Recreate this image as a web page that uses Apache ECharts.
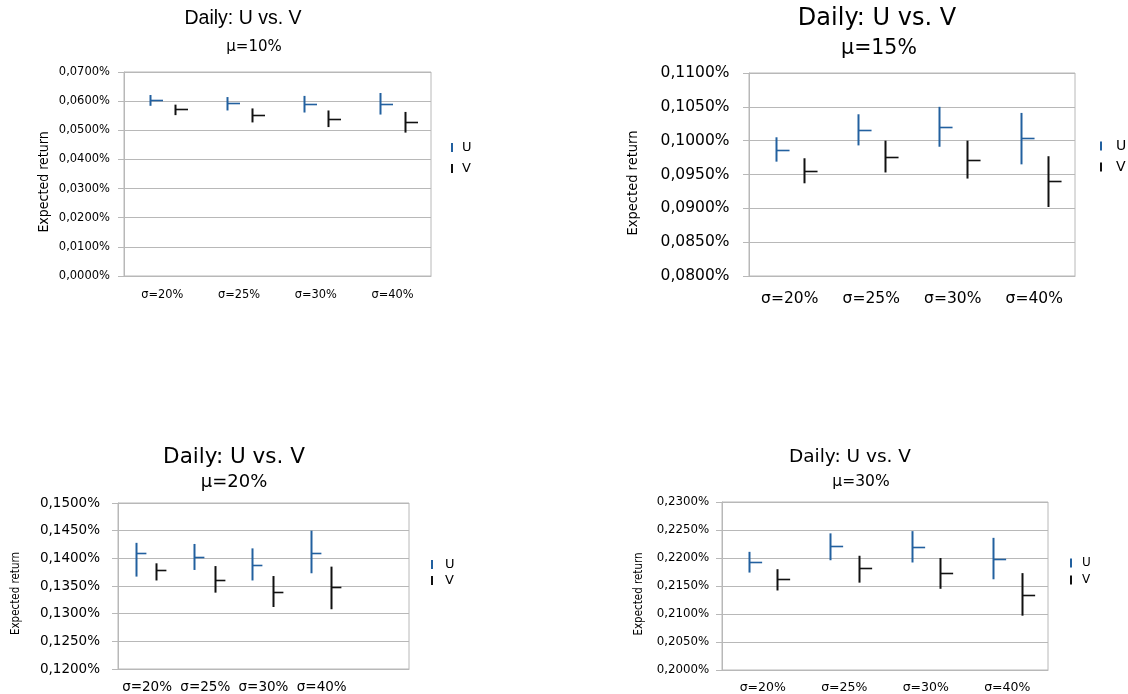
<!DOCTYPE html>
<html>
<head>
<meta charset="utf-8">
<script src="https://cdn.jsdelivr.net/npm/echarts@6/dist/echarts.min.js"></script>
<style>html,body{margin:0;padding:0;background:#fff;}#c{width:1128px;height:694px;}</style>
</head>
<body>
<div id="c"></div>
<script>
// ---------- data (values in percent) ----------
const categories = ['σ=20%', 'σ=25%', 'σ=30%', 'σ=40%'];
const categories20 = ['σ=20%', 'σ=25%', 'σ=30%', 'σ=40%', ''];
const seriesNames = ['U', 'V'];
const mainTitle = 'Daily: U vs. V';
const subTitles = ['μ=10%', 'μ=15%', 'μ=20%', 'μ=30%'];
const yName = 'Expected return';

// μ=10%
const u10Low   = [0.0584, 0.0568, 0.0561, 0.0554];
const u10High  = [0.0621, 0.0614, 0.0618, 0.0628];
const u10Close = [0.0604, 0.0593, 0.0590, 0.0590];
const v10Low   = [0.0552, 0.0527, 0.0511, 0.0492];
const v10High  = [0.0588, 0.0575, 0.0568, 0.0563];
const v10Close = [0.0573, 0.0554, 0.0540, 0.0528];
// μ=15%
const u15Low   = [0.0969, 0.0993, 0.0991, 0.0965];
const u15High  = [0.1005, 0.1039, 0.1050, 0.1041];
const u15Close = [0.0986, 0.1016, 0.1020, 0.1004];
const v15Low   = [0.0937, 0.0953, 0.0944, 0.0902];
const v15High  = [0.0974, 0.1000, 0.1000, 0.0977];
const v15Close = [0.0955, 0.0976, 0.0972, 0.0941];
// μ=20%
const u20Low   = [0.1367, 0.1379, 0.1360, 0.1373];
const u20High  = [0.1428, 0.1426, 0.1418, 0.1450];
const u20Close = [0.1410, 0.1402, 0.1388, 0.1410];
const v20Low   = [0.1360, 0.1338, 0.1312, 0.1308];
const v20High  = [0.1391, 0.1386, 0.1368, 0.1385];
const v20Close = [0.1379, 0.1361, 0.1340, 0.1348];
// μ=30%
const u30Low   = [0.2174, 0.2196, 0.2192, 0.2162];
const u30High  = [0.2211, 0.2244, 0.2248, 0.2236];
const u30Close = [0.2193, 0.2222, 0.2220, 0.2199];
const v30Low   = [0.2142, 0.2156, 0.2145, 0.2097];
const v30High  = [0.2180, 0.2204, 0.2200, 0.2173];
const v30Close = [0.2162, 0.2182, 0.2173, 0.2134];

// y axis ranges
const yMin = [0.00, 0.080, 0.120, 0.200];
const yMax = [0.07, 0.110, 0.150, 0.230];
const yStep = [0.01, 0.005, 0.005, 0.005];

// ---------- styling / layout ----------
const BLUE = '#22609f';
const BLACK = '#111111';
const GRAY = '#b8b8b8';
const SANS = "'DejaVu Sans', sans-serif";
const LIB = "'Liberation Sans', Arial, sans-serif";
const NARROW = "'Liberation Sans Narrow', 'DejaVu Sans Condensed', 'Liberation Sans', sans-serif";

const panels = [
  { grid: {left: 124, top: 72, width: 307, height: 204}, cats: categories,
    u: [u10Low, u10High, u10Close], v: [v10Low, v10High, v10Close],
    uOff: 0.160, vOff: 0.162, tick: 0.163,
    yFont: 11.5, yMargin: 14, xFont: 11.4, xMargin: 14,
    nameFont: 14, nameGap: 73, nameShift: 16,
    title: {x: 243, y: 19, size: 19.5, font: LIB}, sub: {x: 254, y: 48, size: 15},
    legend: {left: 451, top: 141, font: 13, pad: 4, gap: 8} },
  { grid: {left: 749, top: 73, width: 326, height: 203}, cats: categories,
    u: [u15Low, u15High, u15Close], v: [v15Low, v15High, v15Close],
    uOff: 0.165, vOff: 0.174, tick: 0.160,
    yFont: 15.5, yMargin: 19.5, xFont: 15.5, xMargin: 15,
    nameFont: 14.5, nameGap: 108, nameShift: 17,
    title: {x: 877, y: 20, size: 24, font: SANS}, sub: {x: 879, y: 49, size: 20.5},
    legend: {left: 1100, top: 139, font: 14, pad: 9, gap: 7} },
  { grid: {left: 118, top: 503, width: 291, height: 167}, cats: categories20,
    u: [u20Low, u20High, u20Close], v: [v20Low, v20High, v20Close],
    uOff: 0.190, vOff: 0.160, tick: 0.170,
    yFont: 13.5, yMargin: 18, xFont: 13.5, xMargin: 11,
    nameFont: 11.5, nameGap: 96, nameShift: 15,
    title: {x: 234, y: 458, size: 21.5, font: SANS}, sub: {x: 234, y: 483, size: 18},
    legend: {left: 431, top: 558, font: 13, pad: 7, gap: 3} },
  { grid: {left: 722, top: 502, width: 326, height: 168}, cats: categories,
    u: [u30Low, u30High, u30Close], v: [v30Low, v30High, v30Close],
    uOff: 0.172, vOff: 0.176, tick: 0.155,
    yFont: 11.8, yMargin: 12.7, xFont: 12.5, xMargin: 11,
    nameFont: 11.5, nameGap: 77, nameShift: 16,
    title: {x: 850, y: 458, size: 18.5, font: SANS}, sub: {x: 861, y: 483, size: 15.5},
    legend: {left: 1070, top: 557, font: 12, pad: 5, gap: 5} }
];

function fmtPct(v) {
  return v.toFixed(4).replace('.', ',') + '%';
}

function makeRenderer(dir, offFrac, tickFrac, color) {
  return function (params, api) {
    const idx = api.value(0);
    const lo = api.coord([idx, api.value(1)]);
    const hi = api.coord([idx, api.value(2)]);
    const cl = api.coord([idx, api.value(3)]);
    const band = api.size([1, 0])[0];
    const x = Math.round(lo[0] + dir * offFrac * band) + 0.5;
    const tl = tickFrac * band;
    return {
      type: 'group',
      children: [
        {type: 'line', shape: {x1: x, y1: hi[1], x2: x, y2: lo[1]},
         style: {stroke: color, lineWidth: 2}},
        {type: 'line', shape: {x1: x, y1: Math.round(cl[1]) + 0.5, x2: x + tl, y2: Math.round(cl[1]) + 0.5},
         style: {stroke: color, lineWidth: 1.6}}
      ]
    };
  };
}

function toData(arrs) {
  const [lo, hi, cl] = arrs;
  return lo.map((l, i) => [i, l, hi[i], cl[i]]);
}

const option = {
  backgroundColor: '#ffffff',
  animation: false,
  title: [], grid: [], xAxis: [], yAxis: [], series: [], legend: []
};

panels.forEach((p, k) => {
  option.title.push({
    text: mainTitle, left: p.title.x, top: p.title.y - p.title.size / 2 - 1, textAlign: 'center', padding: 0,
    textStyle: {fontFamily: p.title.font, fontSize: p.title.size, fontWeight: 'normal', color: '#000'}
  });
  option.title.push({
    text: subTitles[k], left: p.sub.x, top: p.sub.y - p.sub.size / 2 - 1, textAlign: 'center', padding: 0,
    textStyle: {fontFamily: SANS, fontSize: p.sub.size, fontWeight: 'normal', color: '#000'}
  });
  option.grid.push(Object.assign({show: true, borderColor: GRAY, borderWidth: 1, backgroundColor: 'transparent'}, p.grid));
  option.xAxis.push({
    type: 'category', gridIndex: k, data: p.cats, boundaryGap: true,
    axisLine: {lineStyle: {color: GRAY, width: 1}},
    axisTick: {alignWithLabel: true, length: 6, lineStyle: {color: GRAY}},
    axisLabel: {interval: 0, margin: p.xMargin, fontFamily: SANS, fontSize: p.xFont, color: '#000'},
    splitLine: {show: false}
  });
  option.yAxis.push({
    type: 'value', gridIndex: k, min: yMin[k], max: yMax[k], interval: yStep[k],
    name: yName, nameLocation: 'middle', nameRotate: 90, nameGap: p.nameGap,
    nameTextStyle: {fontFamily: NARROW, fontSize: p.nameFont, color: '#000', padding: [0, p.nameShift, 0, 0]},
    axisLine: {show: true, lineStyle: {color: GRAY, width: 1}},
    axisTick: {show: true, length: 6, lineStyle: {color: GRAY}},
    axisLabel: {margin: p.yMargin, fontFamily: SANS, fontSize: p.yFont, color: '#000', formatter: fmtPct},
    splitLine: {show: true, lineStyle: {color: GRAY, width: 1}}
  });
  option.series.push({
    type: 'custom', name: seriesNames[0], xAxisIndex: k, yAxisIndex: k,
    itemStyle: {color: BLUE}, encode: {x: 0, y: [1, 2, 3]},
    renderItem: makeRenderer(-1, p.uOff, p.tick, BLUE), data: toData(p.u)
  });
  option.series.push({
    type: 'custom', name: seriesNames[1], xAxisIndex: k, yAxisIndex: k,
    itemStyle: {color: BLACK}, encode: {x: 0, y: [1, 2, 3]},
    renderItem: makeRenderer(1, p.vOff, p.tick, BLACK), data: toData(p.v)
  });
  option.legend.push({
    orient: 'vertical', left: p.legend.left, top: p.legend.top, padding: 0,
    icon: 'rect', itemWidth: 2, itemHeight: 9, itemGap: p.legend.gap,
    selectedMode: false, data: seriesNames,
    textStyle: {fontFamily: SANS, fontSize: p.legend.font, color: '#000', padding: [0, 0, 0, p.legend.pad]}
  });
});

const chart = echarts.init(document.getElementById('c'), null, {renderer: 'canvas'});
chart.setOption(option);
</script>
</body>
</html>
